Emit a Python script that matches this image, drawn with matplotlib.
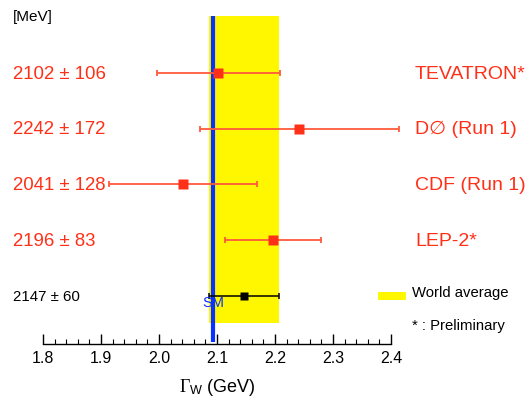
import matplotlib
matplotlib.use('Agg')
import matplotlib.pyplot as plt
from matplotlib.ticker import MultipleLocator

# W width measurements [GeV]
experiments = ['TEVATRON*', 'D\u2205 (Run 1)', 'CDF (Run 1)', 'LEP-2*']
values = [2.102, 2.242, 2.041, 2.196]
errors = [0.106, 0.172, 0.128, 0.083]
value_labels = ['2102 \u00b1 106', '2242 \u00b1 172', '2041 \u00b1 128', '2196 \u00b1 83']
rows = [5, 4, 3, 2]

world_avg = 2.147
world_err = 0.060
world_label = '2147 \u00b1 60'
world_row = 1

sm_value = 2.093

RED = '#ff3018'
BAR_RED = '#ff5a3c'
YELLOW = '#fff700'
BLUE = '#0a32ff'


def main():
    plt.rcParams['font.family'] = ['Liberation Sans', 'DejaVu Sans']
    plt.rcParams['mathtext.fontset'] = 'custom'
    plt.rcParams['mathtext.rm'] = 'Liberation Serif'
    plt.rcParams['mathtext.it'] = 'Liberation Serif:italic'
    plt.rcParams['mathtext.sf'] = 'Liberation Sans'

    fig = plt.figure(figsize=(5.27, 4.02), dpi=100)
    ax = fig.add_axes([43 / 527, 57 / 402, 348 / 527, 328 / 402])
    y0, y1 = 0.13, 6.03
    ax.set_xlim(1.8, 2.4)
    ax.set_ylim(y0, y1)

    # world average band and SM prediction
    ax.axvspan(world_avg - world_err, world_avg + world_err, ymin=(0.51 - y0) / (y1 - y0), ymax=1,
               color=YELLOW, lw=0, zorder=1)
    ax.axvline(sm_value, ymin=0.006, color=BLUE, lw=3, zorder=2, solid_capstyle='butt')
    ax.text(sm_value, world_row - 0.12, 'SM', color=BLUE, fontsize=10.5, ha='center', va='center', zorder=4)

    for row, v, e, vl, name in zip(rows, values, errors, value_labels, experiments):
        ax.errorbar(v, row, xerr=e, fmt='s', color=RED, ecolor=BAR_RED, ms=7, mec='none',
                    elinewidth=1.3, capsize=2, capthick=1.3, zorder=3, clip_on=False)
        ax.text(-30 / 348, row, vl, transform=ax.get_yaxis_transform(), color=RED,
                fontsize=13.4, ha='left', va='center')
        ax.text(372 / 348, row, name, transform=ax.get_yaxis_transform(), color=RED,
                fontsize=14, ha='left', va='center')

    ax.errorbar(world_avg, world_row, xerr=world_err, fmt='s', color='black', ecolor='black', ms=6,
                mec='none', elinewidth=1.1, capsize=2, capthick=1.1, zorder=3)
    ax.text(-30 / 348, world_row, world_label, transform=ax.get_yaxis_transform(),
            fontsize=10.8, ha='left', va='center')
    ax.text(-30 / 348, y1, '[MeV]', transform=ax.get_yaxis_transform(),
            fontsize=11, ha='left', va='center')

    # legend
    fig.patches.append(plt.Rectangle((378 / 527, 101 / 402), 28 / 527, 8 / 402,
                                     transform=fig.transFigure, color=YELLOW, lw=0))
    fig.text(412 / 527, 1 - 293 / 402, 'World average', fontsize=10.7, va='center')
    fig.text(412 / 527, 1 - 326 / 402, '* : Preliminary', fontsize=10.7, va='center')

    for side in ['left', 'right', 'top']:
        ax.spines[side].set_visible(False)
    ax.spines['bottom'].set_linewidth(1.0)
    ax.set_yticks([])
    ax.xaxis.set_major_locator(MultipleLocator(0.1))
    ax.xaxis.set_minor_locator(MultipleLocator(0.02))
    ax.set_xticks([1.8, 1.9, 2.0, 2.1, 2.2, 2.3, 2.4])
    ax.set_xticklabels(['1.8', '1.9', '2.0', '2.1', '2.2', '2.3', '2.4'])
    ax.tick_params(axis='x', which='major', direction='in', length=7, width=1, labelsize=11.5, pad=4)
    ax.tick_params(axis='x', which='minor', direction='in', length=3.5, width=0.8)
    ax.set_xlabel(r'$\Gamma_{\mathsf{W}}$ (GeV)', fontsize=13, labelpad=8)

    fig.savefig('out.png', dpi=100)


if __name__ == '__main__':
    main()
